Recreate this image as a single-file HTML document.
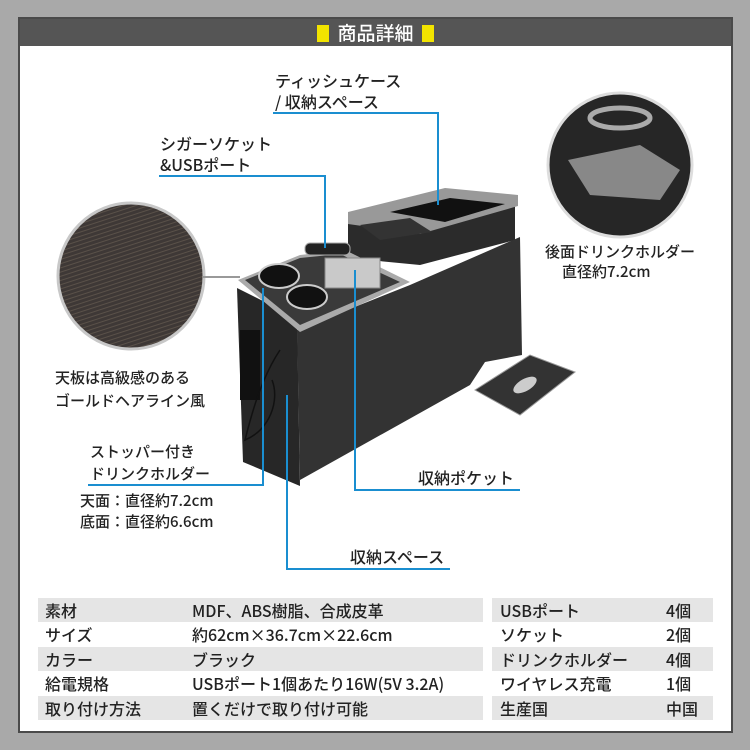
<!DOCTYPE html>
<html><head><meta charset="utf-8"><style>
*{margin:0;padding:0;box-sizing:border-box}
body{width:750px;height:750px;background:#a9a9a9;position:relative;overflow:hidden;font-family:"Liberation Sans","Noto Sans CJK JP",sans-serif;color:#222}
.panel{position:absolute;left:18px;top:17px;width:715px;height:716px;background:#fff;border:2px solid #4a4a4a}
.hdr{position:absolute;left:0;top:0;width:100%;height:27px;background:#555;color:#fff;font-size:19px;text-align:center;line-height:27px;font-family:"Noto Sans CJK JP",sans-serif;font-weight:500}
.sq{display:inline-block;width:12px;height:17px;background:#f2e400;vertical-align:-2px;margin:0 8px}
.t{position:absolute;font-size:16px;line-height:21px;white-space:nowrap;font-family:"Noto Sans CJK JP",sans-serif;font-weight:500;color:#222}
.row{position:absolute;height:24px}
.g{background:#e5e5e5}
.c{position:absolute;font-size:16px;line-height:24px;font-family:"Noto Sans CJK JP",sans-serif;font-weight:500;color:#222;white-space:nowrap}
</style></head><body>
<div class="panel"><div class="hdr"><span class="sq"></span>商品詳細<span class="sq"></span></div></div>
<svg width="750" height="750" style="position:absolute;left:0;top:0">
<defs>
<pattern id="wood" width="10" height="4" patternUnits="userSpaceOnUse" patternTransform="rotate(-18)">
<rect width="10" height="4" fill="#3e3836"/><line x1="0" y1="1.5" x2="10" y2="1.5" stroke="#6d6255" stroke-width="0.6"/></pattern>
</defs>
<circle cx="131" cy="276" r="73" fill="url(#wood)" stroke="#c8c8c8" stroke-width="3"/>
<line x1="203" y1="277" x2="240" y2="277" stroke="#999" stroke-width="2"/>
<circle cx="620" cy="165" r="72" fill="#262626" stroke="#ddd" stroke-width="3"/>
<path d="M568 160 L640 145 L680 170 L660 200 L590 195 Z" fill="#888"/>
<ellipse cx="620" cy="118" rx="30" ry="10" fill="none" stroke="#aaa" stroke-width="5"/>
<polygon points="348,218 445,192 515,198 515,240 420,265 348,258" fill="#2b2b2b"/>
<polygon points="348,212 445,188 518,195 518,206 420,234 348,224" fill="#999"/>
<polygon points="390,212 450,198 505,204 445,222" fill="#111"/>
<polygon points="360,225 410,218 432,232 380,240" fill="#333"/>
<polygon points="297,330 410,285 520,237 522,355 485,362 470,385 300,480" fill="#333"/>
<polygon points="237,288 297,318 300,486 243,462" fill="#272727"/>
<rect x="240" y="330" width="20" height="70" fill="#111"/>
<polygon points="238,280 300,255 345,250 410,282 300,332" fill="#aaa"/>
<polygon points="245,280 300,258 340,254 400,282 300,325" fill="#3a3a3a"/>
<ellipse cx="279" cy="276" rx="20" ry="12" fill="#111" stroke="#ccc" stroke-width="2"/>
<ellipse cx="307" cy="297" rx="20" ry="12" fill="#111" stroke="#ccc" stroke-width="2"/>
<rect x="325" y="258" width="55" height="30" fill="#c9c9c9" stroke="#888"/>
<rect x="305" y="243" width="45" height="12" rx="5" fill="#222" stroke="#aaa"/>
<path d="M280 350 C260 380 250 420 245 440 C270 430 280 400 272 380" fill="none" stroke="#111" stroke-width="1.5"/>
<polygon points="475,390 530,355 575,372 520,415" fill="#333" stroke="#999"/>
<ellipse cx="525" cy="385" rx="13" ry="6" fill="#ccc" transform="rotate(-30 525 385)"/>
<g stroke="#1a8ed0" stroke-width="2" fill="none">
<polyline points="273,113 438,113 438,205"/>
<polyline points="159,176 325,176 325,248"/>
<polyline points="88,485 263,485 263,288"/>
<polyline points="287,395 287,569 450,569"/>
<polyline points="355,270 355,490 520,490"/>
</g>
</svg>
<div class="t" style="left:275px;top:70px">ティッシュケース<br>/ 収納スペース</div>
<div class="t" style="left:160px;top:133px">シガーソケット<br>&amp;USBポート</div>
<div class="t" style="left:545px;top:241px;font-size:15px">後面ドリンクホルダー</div>
<div class="t" style="left:562px;top:261px;font-size:15px">直径約7.2cm</div>
<div class="t" style="left:55px;top:366px;font-size:15px;line-height:23px">天板は高級感のある<br>ゴールドヘアライン風</div>
<div class="t" style="left:90px;top:441px;font-size:15px;line-height:22px">ストッパー付き<br>ドリンクホルダー</div>
<div class="t" style="left:80px;top:490px;font-size:15px;line-height:21px">天面：直径約7.2cm<br>底面：直径約6.6cm</div>
<div class="t" style="left:418px;top:467px">収納ポケット</div>
<div class="t" style="left:350px;top:546px">収納スペース</div>

<div class="row g" style="left:38px;top:598px;width:445px"></div>
<div class="row g" style="left:38px;top:647px;width:445px"></div>
<div class="row g" style="left:38px;top:696px;width:445px"></div>
<div class="row g" style="left:492px;top:598px;width:221px"></div>
<div class="row g" style="left:492px;top:647px;width:221px"></div>
<div class="row g" style="left:492px;top:696px;width:221px"></div>

<div class="c" style="left:45px;top:598px">素材</div><div class="c" style="left:192px;top:598px">MDF、ABS樹脂、合成皮革</div>
<div class="c" style="left:45px;top:622px">サイズ</div><div class="c" style="left:192px;top:622px">約62cm×36.7cm×22.6cm</div>
<div class="c" style="left:45px;top:647px">カラー</div><div class="c" style="left:192px;top:647px">ブラック</div>
<div class="c" style="left:45px;top:671px">給電規格</div><div class="c" style="left:192px;top:671px">USBポート1個あたり16W(5V 3.2A)</div>
<div class="c" style="left:45px;top:696px">取り付け方法</div><div class="c" style="left:192px;top:696px">置くだけで取り付け可能</div>

<div class="c" style="left:500px;top:598px">USBポート</div><div class="c" style="left:666px;top:598px">4個</div>
<div class="c" style="left:500px;top:622px">ソケット</div><div class="c" style="left:666px;top:622px">2個</div>
<div class="c" style="left:500px;top:647px">ドリンクホルダー</div><div class="c" style="left:666px;top:647px">4個</div>
<div class="c" style="left:500px;top:671px">ワイヤレス充電</div><div class="c" style="left:666px;top:671px">1個</div>
<div class="c" style="left:500px;top:696px">生産国</div><div class="c" style="left:666px;top:696px">中国</div>
</body></html>
